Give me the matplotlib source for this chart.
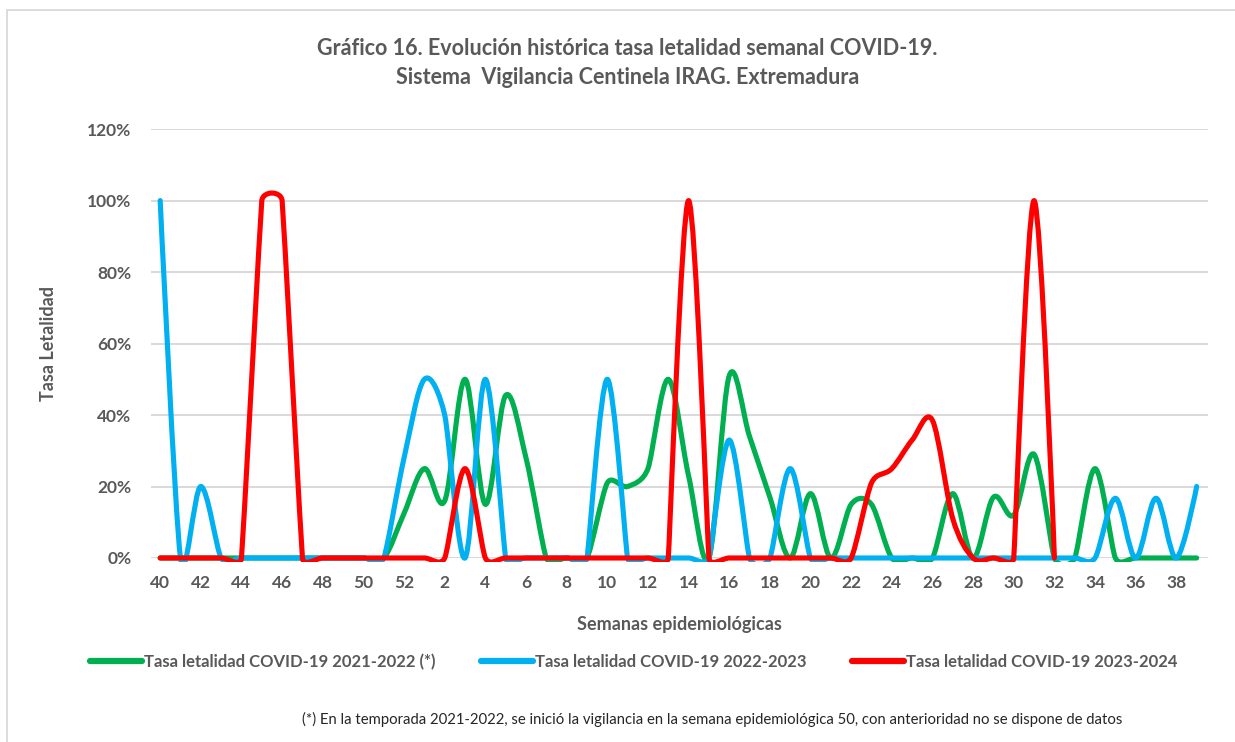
import numpy as np
import matplotlib.pyplot as plt
from matplotlib.path import Path
from matplotlib.patches import PathPatch, Rectangle
from matplotlib.lines import Line2D
from matplotlib.ticker import PercentFormatter

# DATA -------------------

weeks = list(range(40, 53)) + list(range(1, 40))

green_2122 = [
    0, 0, 0, 0, 0, 0, 0, 0, 0, 0, 0, 0, 0.125,          # 40-52
    0.25, 0.16, 0.50, 0.15, 0.455, 0.28, 0, 0, 0, 0.21,  # 1-10
    0.20, 0.25, 0.50, 0.23, 0, 0.51, 0.34, 0.17, 0, 0.18,  # 11-20
    0, 0.15, 0.15, 0, 0, 0, 0.18, 0, 0.17, 0.12,         # 21-30
    0.29, 0, 0, 0.25, 0, 0, 0, 0, 0,                     # 31-39
]

blue_2223 = [
    1.00, 0, 0.20, 0, 0, 0, 0, 0, 0, 0, 0, 0, 0.28,      # 40-52
    0.50, 0.40, 0, 0.50, 0, 0, 0, 0, 0, 0.50,            # 1-10
    0, 0, 0, 0, 0, 0.33, 0, 0, 0.25, 0,                  # 11-20
    0, 0, 0, 0, 0, 0, 0, 0, 0, 0,                        # 21-30
    0, 0, 0, 0, 0.167, 0, 0.167, 0, 0.20,                # 31-39
]

red_2324 = [
    0, 0, 0, 0, 0, 1.00, 1.00, 0, 0, 0, 0, 0, 0,         # 40-52
    0, 0, 0.25, 0, 0, 0, 0, 0, 0, 0,                     # 1-10
    0, 0, 0, 1.00, 0, 0, 0, 0, 0, 0,                     # 11-20
    0, 0, 0.21, 0.25, 0.33, 0.385, 0.11, 0, 0, 0,        # 21-30
    1.00, 0,                                             # 31-32
]

series = [
    ("Tasa letalidad COVID-19 2021-2022 (*)", green_2122, "#00B050"),
    ("Tasa letalidad COVID-19 2022-2023", blue_2223, "#00B0F0"),
    ("Tasa letalidad COVID-19 2023-2024", red_2324, "#FF0000"),
]

TXT = "#595959"
plt.rcParams['font.family'] = ['Lato', 'DejaVu Sans']


def smooth_path(ax, ys):
    # Excel-like smoothed line: Bezier segments, control arms limited by the neighbour segments
    pts = ax.transData.transform(np.column_stack([np.arange(len(ys)), ys]))
    n = len(pts)
    tang = []
    for i in range(n):
        a, b = pts[max(i - 1, 0)], pts[min(i + 1, n - 1)]
        d = b - a
        d02 = np.hypot(*d)
        d01 = np.hypot(*(pts[i] - a))
        d12 = np.hypot(*(b - pts[i]))
        arm = min(d02 / 6, d01 / 2, d12 / 2)
        tang.append(d / d02 * arm if d02 > 0 else d * 0)
    verts = [pts[0]]
    codes = [Path.MOVETO]
    for i in range(n - 1):
        verts += [pts[i] + tang[i], pts[i + 1] - tang[i + 1], pts[i + 1]]
        codes += [Path.CURVE4] * 3
    verts = ax.transData.inverted().transform(np.array(verts))
    return Path(verts, codes)


# PLOTTING -------------------

fig = plt.figure(figsize=(12.35, 7.42), dpi=100)
fig.patches.append(Rectangle((0.0057, -0.05), 1.2, 1.0365, transform=fig.transFigure,
                             fill=False, edgecolor="#D9D9D9", linewidth=1.3))

ax = fig.add_axes([0.1223, 0.248, 0.8557, 0.578])
ax.set_xlim(-0.45, 51.55)
ax.set_ylim(0, 1.2)

ax.set_yticks(np.arange(0, 1.21, 0.2))
ax.yaxis.set_major_formatter(PercentFormatter(1.0, decimals=0))
ax.set_xticks(range(0, len(weeks), 2))
ax.set_xticklabels([str(w) for w in weeks[::2]])
ax.grid(axis='y', color="#D9D9D9", linewidth=1.4)
ax.set_axisbelow(True)
for s in ax.spines.values():
    s.set_visible(False)
ax.tick_params(length=0, labelsize=12.5, labelcolor=TXT)
ax.tick_params(axis='y', pad=14)
ax.tick_params(axis='x', pad=12)
for lab in ax.get_xticklabels() + ax.get_yticklabels():
    lab.set_fontweight('bold')

clip = Rectangle((-1, -0.012), 60, 1.4, transform=ax.transData)
handles = []
for label, vals, color in series:
    patch = PathPatch(smooth_path(ax, vals), fill=False, edgecolor=color,
                      linewidth=3.7, capstyle='round', joinstyle='round')
    ax.add_patch(patch)
    patch.set_clip_path(clip)
    handles.append(Line2D([], [], color=color, linewidth=4.5, solid_capstyle='round', label=label))

ax.set_xlabel("Semanas epidemiológicas", fontsize=13, fontweight='bold', color=TXT, labelpad=18)
ax.set_ylabel("Tasa Letalidad", fontsize=13, fontweight='bold', color=TXT, labelpad=22)

fig.text(0.508, 0.935, "Gráfico 16. Evolución histórica tasa letalidad semanal COVID-19.",
         ha='center', va='center', fontsize=15.5, fontweight='bold', color=TXT)
fig.text(0.508, 0.895, "Sistema  Vigilancia Centinela IRAG. Extremadura",
         ha='center', va='center', fontsize=15.5, fontweight='bold', color=TXT)

fig.legend(handles=handles, loc='center', bbox_to_anchor=(0.513, 0.108), ncol=3,
           frameon=False, handlelength=3.1, handletextpad=0.12,
           columnspacing=2.75, prop={'weight': 'bold', 'size': 12})
for t in fig.legends[0].get_texts():
    t.set_color(TXT)

fig.text(0.5767, 0.030,
         "(*) En la temporada 2021-2022, se inició la vigilancia en la semana epidemiológica 50, "
         "con anterioridad no se dispone de datos",
         ha='center', va='center', fontsize=10.7, color="#262626")

fig.savefig("out.png", dpi=100)
